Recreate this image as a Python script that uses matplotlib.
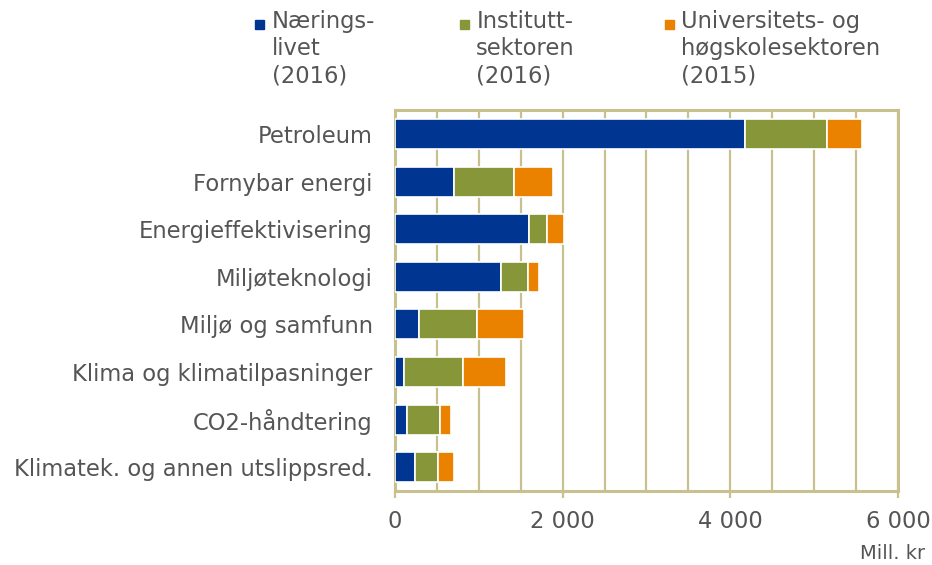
import matplotlib.pyplot as plt
import numpy as np
from matplotlib.patches import Rectangle

categories = ["Petroleum", "Fornybar energi", "Energieffektivisering", "Miljøteknologi",
              "Miljø og samfunn", "Klima og klimatilpasninger", "CO2-håndtering",
              "Klimatek. og annen utslippsred."]
naeringslivet = [4180, 700, 1600, 1270, 290, 110, 145, 240]
instituttsektoren = [975, 715, 215, 315, 685, 700, 390, 270]
uh_sektoren = [415, 465, 205, 135, 560, 510, 130, 190]

series = [("Nærings-\nlivet\n(2016)", naeringslivet, "#003591"),
          ("Institutt-\nsektoren\n(2016)", instituttsektoren, "#88963a"),
          ("Universitets- og\nhøgskolesektoren\n(2015)", uh_sektoren, "#ea8200")]

text_col = "#555555"
frame_col = "#c9c08f"
fs = 16.3

fig = plt.figure(figsize=(9.32, 5.65), dpi=100)
ax = fig.add_axes([0.4238, 0.131, 0.5397, 0.674])

y = np.arange(len(categories))
left = np.zeros(len(categories))
for label, vals, col in series:
    ax.barh(y, vals, left=left, height=0.63, color=col, edgecolor="white",
            linewidth=1.2, zorder=3)
    left = left + np.array(vals)

ax.set_ylim(len(categories) - 0.5, -0.5)
ax.set_xlim(0, 6000)
ax.set_xticks([0, 2000, 4000, 6000])
ax.set_xticklabels(["0", "2 000", "4 000", "6 000"])
ax.set_xticks(np.arange(0, 6001, 500), minor=True)
ax.grid(axis="x", which="both", color=frame_col, linewidth=1.6, zorder=0)
ax.set_yticks(y)
ax.set_yticklabels(categories)

for s in ax.spines.values():
    s.set_color(frame_col)
    s.set_linewidth(2.2)

ax.tick_params(axis="y", length=0, pad=16, labelsize=fs, labelcolor=text_col)
ax.tick_params(axis="x", which="major", length=5, width=1.6, color=frame_col,
               pad=9, labelsize=fs, labelcolor=text_col)
ax.tick_params(axis="x", which="minor", length=0)

# legend at top
leg_text_x = [0.292, 0.511, 0.731]
leg_box_x = [0.2736, 0.4936, 0.7135]
for (label, vals, col), tx, bx in zip(series, leg_text_x, leg_box_x):
    fig.patches.append(Rectangle((bx, 0.9487), 0.0097, 0.016,
                                 transform=fig.transFigure, color=col))
    fig.text(tx, 0.982, label, ha="left", va="top", fontsize=fs,
             color=text_col, linespacing=1.22)

fig.text(0.993, 0.004, "Mill. kr", ha="right", va="bottom", fontsize=14,
         color=text_col)

fig.savefig("out.png", dpi=100)
